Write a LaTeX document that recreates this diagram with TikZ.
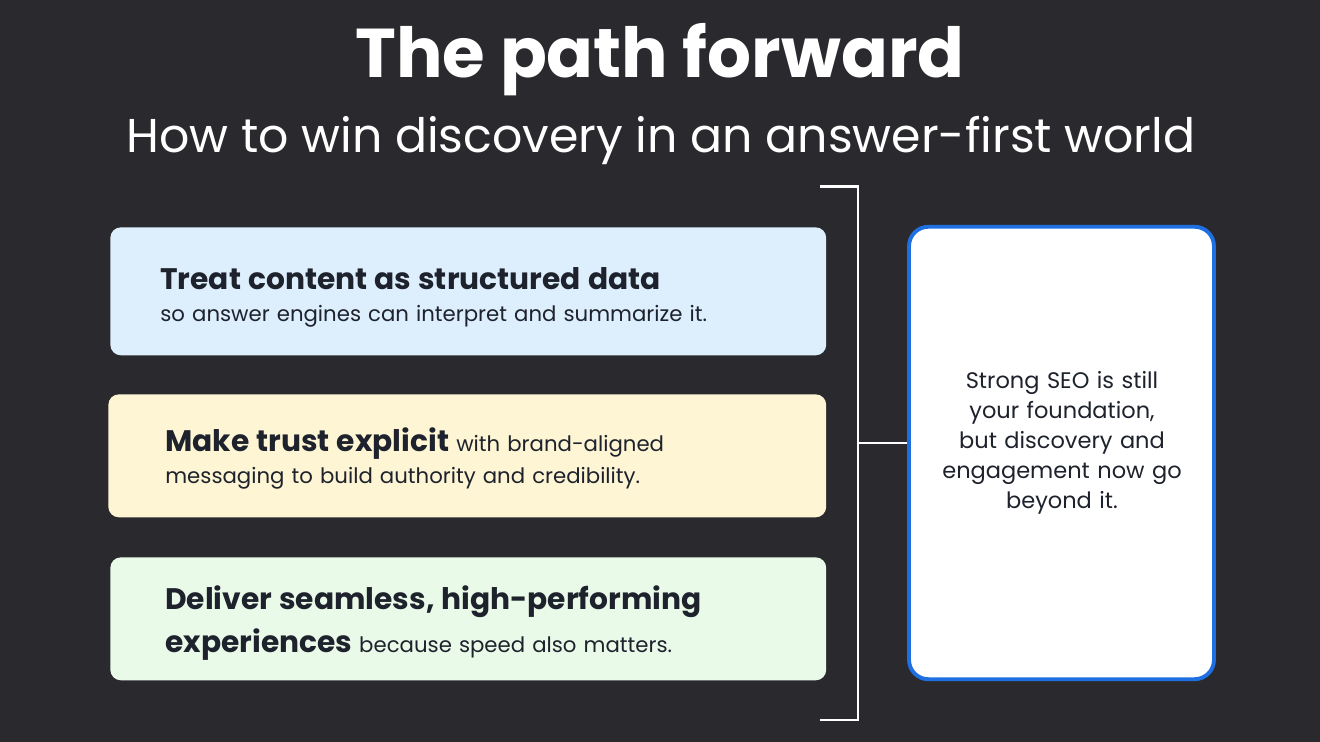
\documentclass[tikz,border=0pt]{standalone}
\usepackage{fontspec}
\setmainfont{Poppins}
\definecolor{bgdark}{RGB}{42,42,46}
\definecolor{inkdark}{RGB}{30,34,44}
\definecolor{cardblue}{RGB}{221,238,253}
\definecolor{cardyellow}{RGB}{253,245,212}
\definecolor{cardgreen}{RGB}{234,250,233}
\definecolor{seoblue}{RGB}{30,112,226}
\newcommand{\cardhead}{\fontsize{16.9}{23}\selectfont\bfseries}
\begin{document}
\begin{tikzpicture}[x=0.02cm, y=-0.02cm]
    % Define styles
    \tikzstyle{card} = [rectangle, rounded corners=6pt, minimum width=14.32cm, minimum height=2.46cm, anchor=north west]
    \tikzstyle{cardtext} = [anchor=base west, inner sep=0pt, text width=13cm, align=left, text=inkdark, font=\fontsize{12.1}{17.8}\selectfont]

    % Background
    \fill[bgdark] (0,0) rectangle (1320,742);

    % Titles
    \node[anchor=base, text=white, font=\fontsize{39.3}{46}\selectfont\bfseries] (title) at (660,78) {The path forward};
    \node[anchor=base, text=white, font=\fontsize{27}{32}\selectfont] (subtitle) at (661,153) {How to win discovery in an answer-first world};

    % Cards
    \node[card, fill=cardblue, minimum height=2.56cm] (structured) at (110,227) {};
    \node[card, fill=cardyellow, minimum width=14.36cm] (trust) at (108,394) {};
    \node[card, fill=cardgreen] (speed) at (110,557) {};
    \node[cardtext] (structuredText) at (160,290) {{\cardhead Treat content as structured data}\\so answer engines can interpret and summarize it.};
    \node[cardtext] (trustText) at (165,452) {{\cardhead Make trust explicit} with brand-aligned\\[0.4pt]messaging to build authority and credibility.};
    \node[cardtext] (speedText) at (165,610) {{\cardhead Deliver seamless, high-performing\\[4.9pt]experiences} because speed also matters.};

    % Summary box
    \node[draw=seoblue, line width=2.2pt, fill=white, rounded corners=11pt, minimum width=6.1cm, minimum height=9.05cm] (seo) at (1061.5,453) {};
    \node[text width=5.4cm, align=center, text=inkdark, font=\fontsize{12.8}{17}\selectfont] (seoText) at (1062,443) {Strong SEO is still\\your foundation,\\but discovery and\\engagement now go\\beyond it.};

    % Bracket
    \coordinate (brTopEnd) at (820,187);
    \coordinate (brTop) at (858,187);
    \coordinate (brBot) at (858,720);
    \coordinate (brBotEnd) at (820,720);
    \coordinate (brMid) at (858,443);
    \draw[white, line width=1.7pt] (brTopEnd) -- (brTop) -- (brBot) -- (brBotEnd);
    \draw[white, line width=1.7pt] (brMid) -- (brMid -| seo.west);
\end{tikzpicture}
\end{document}
